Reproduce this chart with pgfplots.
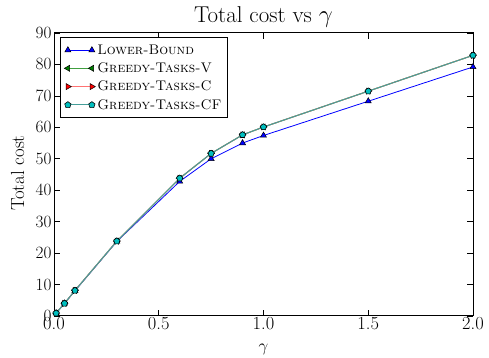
\documentclass[border=0pt]{standalone}
\usepackage{pgfplots}
\pgfplotsset{compat=1.18}
\usetikzlibrary{plotmarks}
\definecolor{mplb}{rgb}{0,0,1}
\definecolor{mplg}{rgb}{0,0.5,0}
\definecolor{mplr}{rgb}{1,0,0}
\definecolor{mplc}{rgb}{0,0.75,0.75}
\definecolor{teal2}{rgb}{0.27,0.62,0.6}
\pgfplotstableread{
x y
0.01 0.9
0.05 4.0
0.1 8.0
0.3 23.7
0.6 42.8
0.75 50.0
0.9 55.0
1.0 57.4
1.5 68.3
2.0 79.2
}\lowerbound
\pgfplotstableread{
x y
0.01 0.9
0.05 4.0
0.1 8.1
0.3 23.8
0.6 43.8
0.75 51.7
0.9 57.6
1.0 60.1
1.5 71.5
2.0 82.9
}\greedy
\begin{document}
\begin{tikzpicture}
\begin{axis}[
 name=ax,
 scale only axis, width=419bp, height=283bp,
 xmin=0, xmax=2, ymin=0, ymax=90,
 xtick={0,0.5,1,1.5,2}, xticklabels={0.0,0.5,1.0,1.5,2.0},
 ytick={0,10,...,90},
 tick align=inside, tick pos=both,
 major tick length=6bp,
 tick style={black, line width=0.6pt},
 ticklabel style={font=\fontsize{18.5}{22}\selectfont},
 xticklabel style={yshift=2bp},
 yticklabel style={xshift=1bp},
 title={Total cost vs $\gamma$},
 title style={font=\fontsize{23}{27}\selectfont, at={(axis description cs:0.5,1)}, anchor=base, yshift=5bp},
 xlabel={$\gamma$}, ylabel={Total cost},
 label style={font=\fontsize{19}{22}\selectfont},
 xlabel style={at={(axis description cs:0.5,-0.12)}, anchor=center},
 ylabel style={at={(axis description cs:-0.087,0.505)}, anchor=center},
 axis line style={line width=1pt},
 legend style={at={(axis description cs:0.0143,0.985)}, anchor=north west, font=\fontsize{14}{17}\selectfont, draw=black, line width=0.8pt, row sep=3bp, inner xsep=4bp, inner ysep=5bp},
 legend cell align=left,
 legend image code/.code={\draw[#1] (0bp,0bp) -- (24bp,0bp); \draw[#1, only marks] plot coordinates {(0bp,0bp) (24bp,0bp)};},
]
\addplot[mplb, line width=0.8pt, mark=triangle*, mark size=3.5pt, mark options={fill=mplb, draw=black, line width=0.5pt}] table {\lowerbound};
\addlegendentry{\textsc{Lower-Bound}}
\addplot[mplg!75!white, line width=1pt, mark=triangle*, mark size=3.5pt, mark options={fill=mplg, draw=black, line width=0.5pt, rotate=90}] table {\greedy};
\addlegendentry{\textsc{Greedy-Tasks-V}}
\addplot[mplr!55!white, line width=1pt, mark=triangle*, mark size=3.5pt, mark options={fill=mplr, draw=black, line width=0.5pt, rotate=-90}] table {\greedy};
\addlegendentry{\textsc{Greedy-Tasks-C}}
\addplot[teal2, line width=1pt, mark=pentagon*, mark size=3.3pt, mark options={fill=mplc, draw=black, line width=0.6pt}] table {\greedy};
\addlegendentry{\textsc{Greedy-Tasks-CF}}
\end{axis}
\pgfresetboundingbox
\path[use as bounding box] ([xshift=-54bp,yshift=-42bp]ax.south west) rectangle ([xshift=16bp,yshift=33bp]ax.north east);
\end{tikzpicture}
\end{document}
